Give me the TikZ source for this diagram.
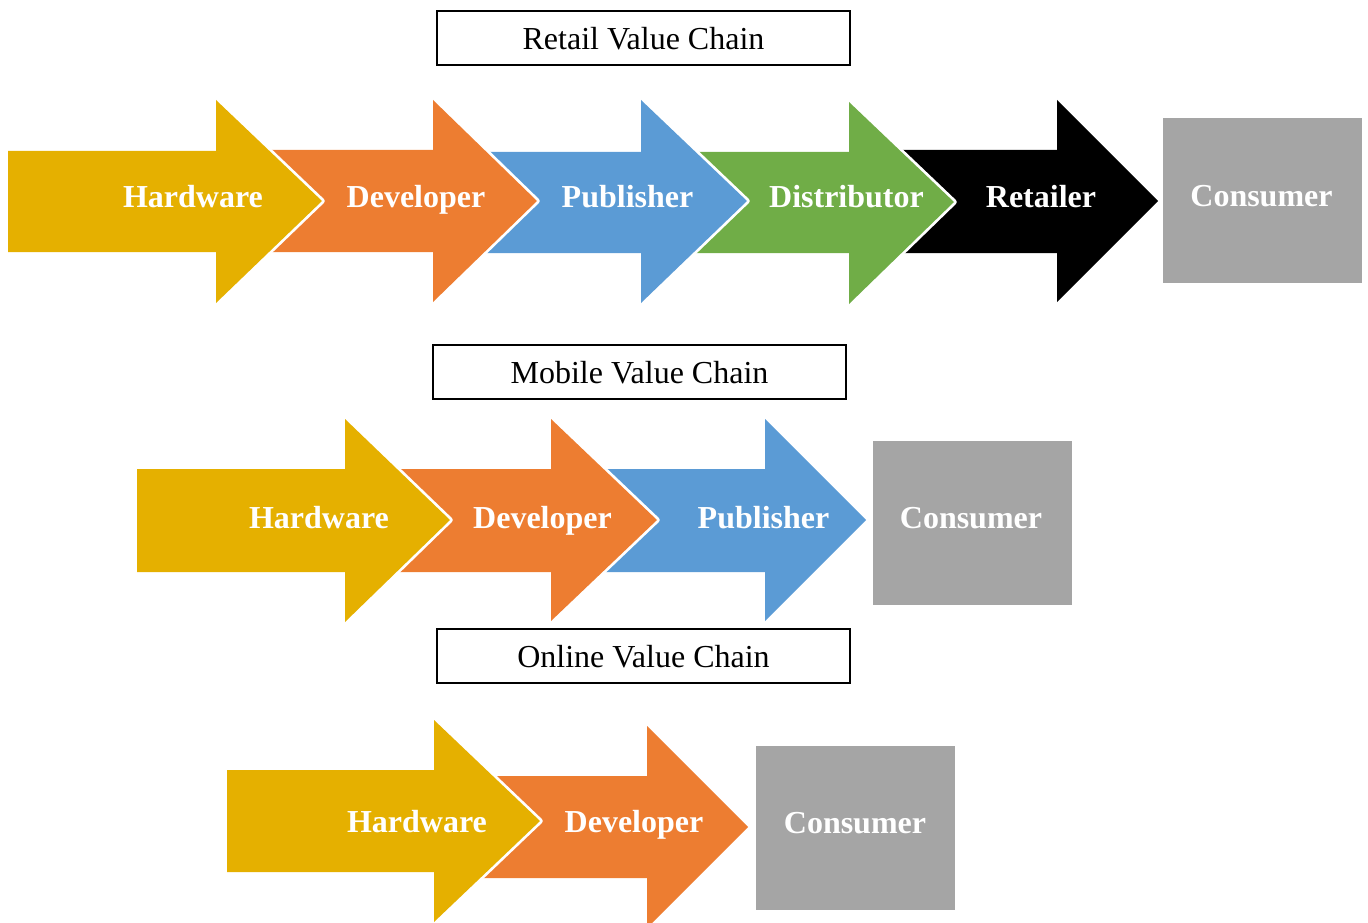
\documentclass[tikz,border=0pt]{standalone}
\usepackage{fontspec}
\setmainfont{Liberation Serif}
\definecolor{hwgold}{HTML}{E5B000}
\definecolor{devorange}{HTML}{ED7D31}
\definecolor{pubblue}{HTML}{5B9BD5}
\definecolor{distgreen}{HTML}{70AD47}
\definecolor{consgrey}{HTML}{A5A5A5}
% block arrow: #1 colour, #2 left x, #3 body top, #4 body bottom,
% #5 head x, #6 head top, #7 head bottom, #8 tip x, #9 tip y
% the white tip outline is laid down first so the fill keeps its full size
\newcommand{\vcarrow}[9]{%
  \draw[tipedge] (#5,#6) -- (#8,#9) -- (#5,#7);
  \fill[#1] (#2,#3) -- (#5,#3) -- (#5,#6) -- (#8,#9) -- (#5,#7) -- (#5,#4) -- (#2,#4) -- cycle;}
\tikzset{
  tipedge/.style={draw=white, line width=5.5pt, line join=round},
  stagetext/.style={text=white, font=\fontsize{32}{36}\selectfont\bfseries, anchor=base, inner sep=0pt},
  chainlabel/.style={draw=black, line width=1.3pt, fill=white, minimum width=413pt, minimum height=54pt,
    font=\fontsize{32}{36}\selectfont, inner sep=0pt, text depth=0pt},
}
\begin{document}
\begin{tikzpicture}[x=1pt, y=-1pt]
\useasboundingbox (0,0) rectangle (1368,923);

% ---- retail chain ----
\node[chainlabel] (lblretail) at (643.5,38) {Retail Value Chain};
\fill[consgrey] (1163,118) rectangle (1362,283);
\vcarrow{black}{895}{150}{253}{1057}{100}{302}{1158}{201}
\vcarrow{distgreen}{690}{152}{253}{849}{102}{304}{954}{202}
\vcarrow{pubblue}{478}{152}{253}{641}{100}{303}{747}{201}
\vcarrow{devorange}{262}{150}{252}{433}{100}{302}{537}{201}
\vcarrow{hwgold}{8}{151}{252}{216}{100}{303}{322}{201}
\node[stagetext] (r1) at (193,207) {Hardware};
\node[stagetext] (r2) at (416,207) {Developer};
\node[stagetext] (r3) at (627.5,207) {Publisher};
\node[stagetext] (r4) at (846.5,207) {Distributor};
\node[stagetext] (r5) at (1041,207) {Retailer};
\node[stagetext] (r6) at (1261.5,206) {Consumer};

% ---- mobile chain ----
\node[chainlabel] (lblmobile) at (639.5,372) {Mobile Value Chain};
\fill[consgrey] (873,441) rectangle (1072,605);
\vcarrow{pubblue}{598}{469}{572}{765}{419}{621}{866}{520}
\vcarrow{devorange}{392}{469}{572}{551}{419}{621}{657}{520}
\vcarrow{hwgold}{137}{469}{572}{345}{419}{622}{450}{520}
\node[stagetext] (m1) at (319,528) {Hardware};
\node[stagetext] (m2) at (542.5,528) {Developer};
\node[stagetext] (m3) at (763.5,528) {Publisher};
\node[stagetext] (m4) at (971,528) {Consumer};

% ---- online chain ----
\node[chainlabel] (lblonline) at (643.5,656) {Online Value Chain};
\fill[consgrey] (756,746) rectangle (955,910);
\vcarrow{devorange}{480}{776}{878}{647}{726}{928}{748}{827}
\vcarrow{hwgold}{227}{770}{872}{434}{720}{922}{540}{821}
\node[stagetext] (o1) at (417,832) {Hardware};
\node[stagetext] (o2) at (634,832) {Developer};
\node[stagetext] (o3) at (855,833) {Consumer};
\end{tikzpicture}
\end{document}
